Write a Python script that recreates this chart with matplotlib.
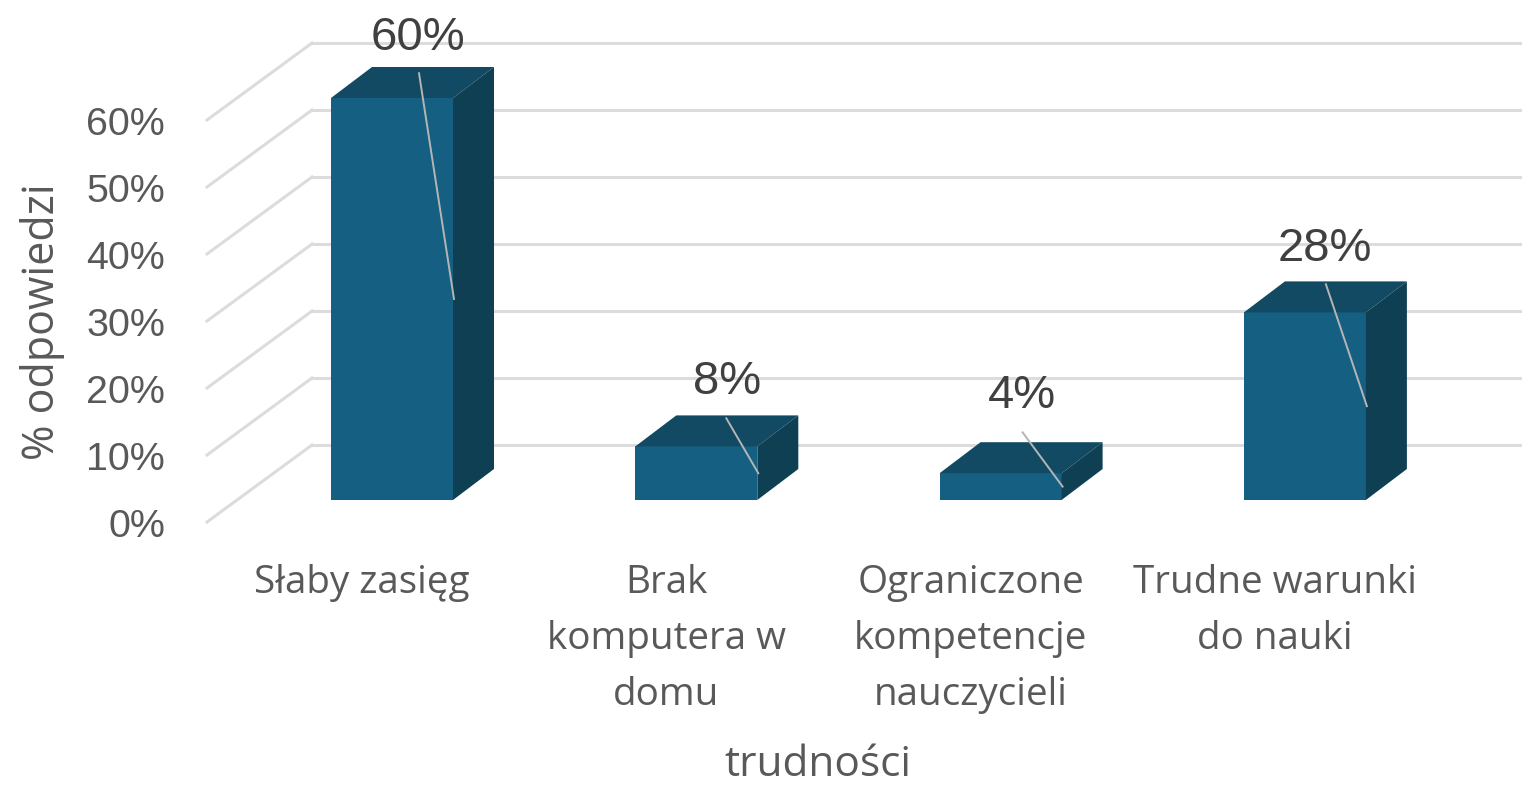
import matplotlib.pyplot as plt
from matplotlib.patches import Polygon

categories = ['Słaby zasięg', 'Brak\nkomputera w\ndomu', 'Ograniczone\nkompetencje\nnauczycieli', 'Trudne warunki\ndo nauki']
values = [60, 8, 4, 28]
value_labels = ['60%', '8%', '4%', '28%']
y_ticks = [0, 10, 20, 30, 40, 50, 60]

col_front = '#156082'
col_top = '#124a63'
col_side = '#0e3f53'
col_grid = '#dcdcdc'
col_text = '#595959'
col_label = '#404040'

# 1 x unit = 304.3 px, 10% = 67 px, bar floor at pixel y=500
W, H = 1522, 787
ux, uy = 304.3, 6.7
depth_x, depth_y = 41 / ux, 31 / uy
bar_w = 122 / ux

plt.rcParams['font.family'] = ['Open Sans', 'DejaVu Sans']
fig = plt.figure(figsize=(W / 100, H / 100), dpi=100)
ax = fig.add_axes([0, 0, 1, 1])
ax.set_xlim(-392 / ux, (W - 392) / ux)
ax.set_ylim(-(H - 500) / uy, 500 / uy)
ax.axis('off')

# wall and floor lines
back_x, front_x = -80 / ux, -185 / ux
back_dy, front_dy = 55 / uy, -22 / uy
for t in y_ticks:
    ax.plot([front_x, back_x], [t + front_dy, t + back_dy], color=col_grid, lw=2.2, zorder=1)
    ax.plot([back_x, ax.get_xlim()[1]], [t + back_dy, t + back_dy], color=col_grid, lw=2.2, zorder=1)
    ax.text(-227 / ux, t + front_dy - 0.2, f'{t}%', ha='right', va='center_baseline', fontsize=28.4,
            color=col_text, family='Liberation Sans')

xs = list(range(len(values)))
ax.bar(xs, values, width=bar_w, color=col_front, zorder=3)
for x, v in zip(xs, values):
    l, r = x - bar_w / 2, x + bar_w / 2
    ax.add_patch(Polygon([(l, v), (r, v), (r + depth_x, v + depth_y), (l + depth_x, v + depth_y)],
                         fc=col_top, ec='none', zorder=3))
    ax.add_patch(Polygon([(r, 0), (r + depth_x, depth_y), (r + depth_x, v + depth_y), (r, v)],
                         fc=col_side, ec='none', zorder=3))

# data labels with leader lines
label_dx = [26, 31, 21, 20]
label_y = [69.7, 18.3, 16.2, 38.2]
lead_dx = [27, 30, 22, 21]
lead_top = [63.7, 12.2, 10.1, 32.2]
for x, v, txt, ldx, ly, sdx, st in zip(xs, values, value_labels, label_dx, label_y, lead_dx, lead_top):
    ax.text(x + ldx / ux, ly, txt, ha='center', va='center_baseline', fontsize=34, color=col_label,
            zorder=5, family='Liberation Sans')
    ax.plot([x + sdx / ux, x + bar_w / 2 + 1 / ux], [st, v / 2], color='#b5b5b5', lw=1.4, zorder=4)

# category labels
for x, c in zip(xs, categories):
    ax.text(x - 30 / ux, -(581 - 500) / uy + 2.5, c, ha='center', va='top', fontsize=27.8,
            color=col_text, linespacing=1.62)

ax.text((818 - 392) / ux, -(786 - 500) / uy, 'trudności', ha='center', va='bottom', fontsize=30.5, color=col_text)
ax.text((42 - 392) / ux, (500 - 322) / uy, '% odpowiedzi', ha='center', va='center', rotation=90,
        fontsize=31, color=col_text)

fig.savefig('out.png', dpi=100)
